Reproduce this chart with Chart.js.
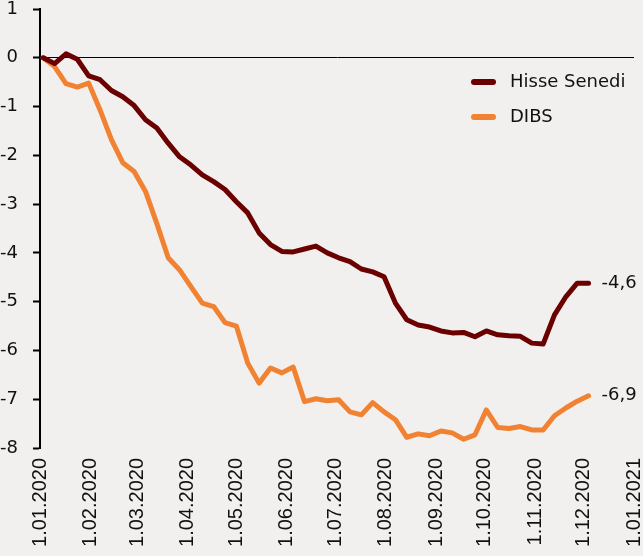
<!DOCTYPE html>
<html>
<head>
<meta charset="utf-8">
<script src="https://cdn.jsdelivr.net/npm/chart.js@4"></script>
<style>
  html, body { margin: 0; padding: 0; background: #F2F0EF; }
  #wrap { width: 643px; height: 556px; position: relative; }
</style>
</head>
<body>
<div id="wrap"><canvas id="c" width="643" height="556"></canvas></div>
<script>
// Weekly observation dates (dd.mm.yyyy)
const dates = [
  '03.01.2020','10.01.2020','17.01.2020','24.01.2020','31.01.2020',
  '07.02.2020','14.02.2020','21.02.2020','28.02.2020',
  '06.03.2020','13.03.2020','20.03.2020','27.03.2020',
  '03.04.2020','10.04.2020','17.04.2020','24.04.2020',
  '01.05.2020','08.05.2020','15.05.2020','22.05.2020','29.05.2020',
  '05.06.2020','12.06.2020','19.06.2020','26.06.2020',
  '03.07.2020','10.07.2020','17.07.2020','24.07.2020','31.07.2020',
  '07.08.2020','14.08.2020','21.08.2020','28.08.2020',
  '04.09.2020','11.09.2020','18.09.2020','25.09.2020',
  '02.10.2020','09.10.2020','16.10.2020','23.10.2020','30.10.2020',
  '06.11.2020','13.11.2020','20.11.2020','27.11.2020',
  '04.12.2020'
];

const hisseSenedi = [
  0, -0.12, 0.08, -0.03, -0.37, -0.45, -0.67, -0.80, -0.98, -1.27,
  -1.44, -1.75, -2.03, -2.20, -2.40, -2.54, -2.70, -2.95, -3.18, -3.59,
  -3.83, -3.97, -3.98, -3.92, -3.86, -4.00, -4.10, -4.18, -4.33, -4.39,
  -4.49, -5.03, -5.37, -5.48, -5.52, -5.60, -5.64, -5.63, -5.72, -5.60,
  -5.68, -5.70, -5.71, -5.85, -5.87, -5.27, -4.90, -4.62, -4.62
];

const dibs = [
  0, -0.18, -0.53, -0.60, -0.52, -1.07, -1.68, -2.15, -2.33, -2.74,
  -3.40, -4.10, -4.35, -4.69, -5.03, -5.10, -5.43, -5.50, -6.26, -6.67,
  -6.36, -6.46, -6.34, -7.05, -6.99, -7.03, -7.01, -7.26, -7.32, -7.07,
  -7.26, -7.42, -7.78, -7.71, -7.75, -7.65, -7.69, -7.82, -7.73, -7.22,
  -7.58, -7.60, -7.56, -7.63, -7.63, -7.34, -7.18, -7.04, -6.93
];

const seriesNames = ['Hisse Senedi', 'DIBS'];
const seriesColors = ['#6B0000', '#F08232'];

const monthLabels = [
  '1.01.2020','1.02.2020','1.03.2020','1.04.2020','1.05.2020','1.06.2020',
  '1.07.2020','1.08.2020','1.09.2020','1.10.2020','1.11.2020','1.12.2020','1.01.2021'
];

const yTicks = [1, 0, -1, -2, -3, -4, -5, -6, -7, -8];

// helpers: convert date string to day offset from 1 Jan 2020
const ORIGIN = Date.UTC(2020, 0, 1);
function dayOf(s) {
  const p = s.split('.').map(Number);
  return (Date.UTC(p[2], p[1] - 1, p[0]) - ORIGIN) / 86400000;
}
const xDays = dates.map(dayOf);
const monthDays = monthLabels.map(dayOf);

const seriesValues = [hisseSenedi, dibs];
const datasets = seriesValues.map((vals, k) => ({
  label: seriesNames[k],
  data: vals.map((v, i) => ({ x: xDays[i], y: v })),
  borderColor: seriesColors[k],
  backgroundColor: seriesColors[k],
  borderWidth: 5,
  pointRadius: 0,
  tension: 0,
  borderCapStyle: 'round',
  borderJoinStyle: 'round'
}));

const labelFont = '18px "DejaVu Sans"';

const customLegend = {
  id: 'customLegend',
  afterDatasetsDraw(chart) {
    const ctx = chart.ctx;
    ctx.save();
    const x0 = 474, y0 = 82, gap = 35;
    chart.data.datasets.forEach((ds, i) => {
      const y = y0 + i * gap;
      ctx.strokeStyle = ds.borderColor;
      ctx.lineWidth = 6;
      ctx.lineCap = 'round';
      ctx.beginPath();
      ctx.moveTo(x0, y);
      ctx.lineTo(x0 + 19, y);
      ctx.stroke();
      ctx.fillStyle = '#111';
      ctx.font = labelFont;
      ctx.textAlign = 'left';
      ctx.textBaseline = 'middle';
      ctx.fillText(ds.label, x0 + 36, y);
    });
    ctx.restore();
  }
};

const endLabels = {
  id: 'endLabels',
  afterDatasetsDraw(chart) {
    const ctx = chart.ctx;
    ctx.save();
    ctx.font = labelFont;
    ctx.fillStyle = '#111';
    ctx.textAlign = 'left';
    ctx.textBaseline = 'middle';
    chart.data.datasets.forEach((ds, i) => {
      const meta = chart.getDatasetMeta(i);
      const pt = meta.data[meta.data.length - 1];
      const v = ds.data[ds.data.length - 1].y;
      const txt = v.toFixed(1).replace('.', ',');
      ctx.fillText(txt, pt.x + 13, pt.y);
    });
    ctx.restore();
  }
};

new Chart(document.getElementById('c'), {
  type: 'line',
  data: { datasets },
  options: {
    responsive: false,
    animation: false,
    layout: { padding: { top: 9, right: 9, left: 0, bottom: 0 } },
    plugins: { legend: { display: false }, tooltip: { enabled: false } },
    scales: {
      x: {
        type: 'linear',
        min: monthDays[0],
        max: monthDays[monthDays.length - 1],
        afterBuildTicks(scale) { scale.ticks = monthDays.map(v => ({ value: v })); },
        afterFit(scale) { scale.height = 108; scale.paddingLeft = 0; scale.paddingRight = 0; },
        grid: { display: false, drawTicks: false },
        border: { display: false },
        ticks: {
          autoSkip: false,
          minRotation: 90,
          maxRotation: 90,
          padding: 10,
          color: '#111',
          font: { family: '"Liberation Sans"', size: 20 },
          callback: (v, i) => monthLabels[i]
        }
      },
      y: {
        type: 'linear',
        min: yTicks[yTicks.length - 1],
        max: yTicks[0],
        afterBuildTicks(scale) { scale.ticks = yTicks.slice().reverse().map(v => ({ value: v })); },
        afterFit(scale) { scale.width = 40; scale.paddingTop = 0; scale.paddingBottom = 0; },
        border: { display: true, color: '#000', width: 2 },
        grid: {
          drawOnChartArea: true,
          drawTicks: true,
          tickLength: 7,
          tickColor: '#000',
          tickWidth: 2,
          color: ctx => (ctx.tick && ctx.tick.value === 0) ? '#000' : 'rgba(0,0,0,0)',
          lineWidth: 1
        },
        ticks: {
          padding: 15,
          color: '#111',
          font: { family: '"DejaVu Sans"', size: 18 },
          callback: v => String(v)
        }
      }
    }
  },
  plugins: [customLegend, endLabels]
});
</script>
</body>
</html>
